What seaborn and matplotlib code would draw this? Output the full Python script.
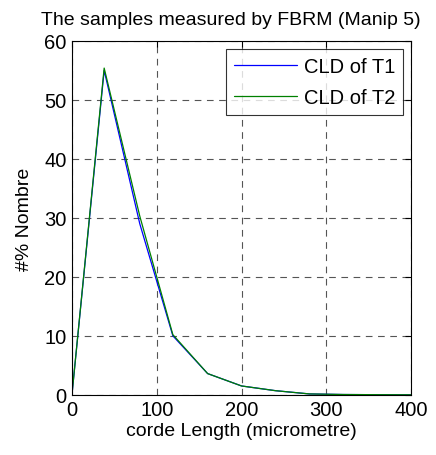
import matplotlib
matplotlib.use("Agg")
import matplotlib.pyplot as plt
import numpy as np
import pandas as pd
import seaborn as sns

# corde length (micrometre) and % number per sample
length = [0, 38, 80, 119, 160, 200, 240, 280, 320, 360, 400]
cld_t1 = [0, 55.0, 29.0, 10.0, 3.6, 1.5, 0.7, 0.15, 0.05, 0.02, 0.0]
cld_t2 = [0, 55.4, 30.3, 10.2, 3.6, 1.5, 0.7, 0.15, 0.05, 0.02, 0.0]
series = ["CLD of T1", "CLD of T2"]

df = pd.concat([
    pd.DataFrame({"x": length, "y": cld_t1, "s": series[0]}),
    pd.DataFrame({"x": length, "y": cld_t2, "s": series[1]}),
])

sns.set_theme(style="white")
plt.rcParams["font.family"] = ["Liberation Sans", "DejaVu Sans"]
plt.rcParams["text.color"] = "black"
plt.rcParams["axes.labelcolor"] = "black"

fig = plt.figure(figsize=(4.36, 4.56), dpi=100)
ax = fig.add_axes([0.165, 0.132, 0.778, 0.776])

sns.lineplot(data=df, x="x", y="y", hue="s", palette=["#0000ff", "#008000"],
             linewidth=0.9, ax=ax)

ax.set_xlim(0, 400)
ax.set_ylim(0, 60)
ax.set_xticks([0, 100, 200, 300, 400])
ax.set_yticks([0, 10, 20, 30, 40, 50, 60])
ax.grid(True, linestyle=(0, (6, 5)), color="#555555", linewidth=0.8)
for sp in ax.spines.values():
    sp.set_color("black")
    sp.set_linewidth(0.8)
ax.tick_params(direction="in", length=4, top=True, right=True, labelsize=14.5,
               colors="black", width=0.8, pad=4)
ax.set_xlabel("corde Length (micrometre)", fontsize=14, labelpad=2, color="black")
ax.set_ylabel("#% Nombre", fontsize=14, labelpad=8, color="black")
ax.set_title("The samples measured by FBRM (Manip 5)", fontsize=14, pad=12,
             x=0.468, color="black")

leg = ax.legend(loc="upper right", fontsize=14.5, frameon=True, fancybox=False,
                edgecolor="black", handlelength=3.1, handletextpad=0.35,
                labelspacing=0.6, borderpad=0.4, borderaxespad=0.4)
leg.get_frame().set_linewidth(0.8)
for t in leg.get_texts():
    t.set_color("black")

fig.savefig("out.png", dpi=100)
